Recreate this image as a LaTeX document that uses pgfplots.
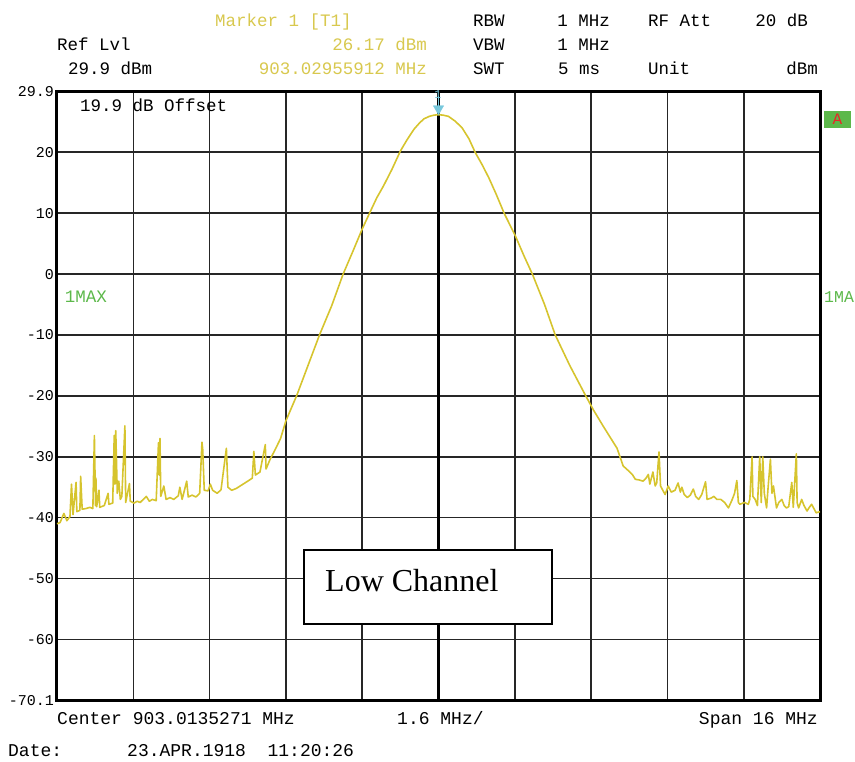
\documentclass[border=0pt]{standalone}
\usepackage{pgfplots}
\pgfplotsset{compat=1.18}
\usepackage{fontspec}
\setmainfont{Liberation Serif}
\newfontfamily\mono{Liberation Mono}
\definecolor{trace}{RGB}{214,196,46}
\definecolor{ytext}{RGB}{216,200,78}
\definecolor{mgreen}{RGB}{92,184,74}
\definecolor{mred}{RGB}{232,38,40}
\definecolor{mcyan}{RGB}{120,200,220}
\newcommand\mf{\mono\fontsize{17.5}{18}\selectfont}
\newcommand\bfnt{\mono\fontsize{18}{18}\selectfont}
\begin{document}
\begin{tikzpicture}[x=1pt,y=1pt]
\useasboundingbox (0,0) rectangle (855,762);
\begin{axis}[
  at={(57pt,61pt)}, anchor=south west, scale only axis,
  width=763pt, height=609pt,
  xmin=0, xmax=10, ymin=-70.1, ymax=29.9,
  xtick={1,2,3,4,6,7,8,9}, xticklabels={},
  extra x ticks={5}, extra x tick labels={},
  extra x tick style={grid style={line width=2.6pt,black}},
  ytick={-60,-50,-40,-30,-20,-10,0,10,20},
  yticklabels={-60,-50,-40,-30,-20,-10,0,10,20},
  extra y ticks={-70.1,29.9}, extra y tick labels={-70.1,29.9},
  extra y tick style={grid=none},
  major tick length=0pt,
  grid=major,
  grid style={line width=1.6pt, black!85},
  axis line style={line width=3pt, black},
  yticklabel style={font=\mono\fontsize{15}{15}\selectfont, inner sep=1pt, xshift=-2pt},
  clip=true,
]
\addplot[trace, line width=1.6pt, line join=round] coordinates {
(0.00,-41.0) (0.04,-40.8) (0.09,-39.3) (0.13,-40.5) (0.17,-39.8) (0.19,-34.5) (0.21,-39.5)
(0.25,-34.2) (0.26,-39.0) (0.30,-38.8) (0.31,-33.2) (0.33,-38.6) (0.38,-38.5) (0.43,-38.3)
(0.47,-38.5) (0.49,-26.5) (0.505,-38.0) (0.51,-33.5) (0.52,-38.2) (0.55,-35.5) (0.56,-38.3)
(0.62,-38.0) (0.67,-36.0) (0.68,-37.8) (0.73,-37.6) (0.75,-26.5) (0.76,-34.5) (0.77,-25.7)
(0.79,-36.0) (0.81,-34.0) (0.83,-37.0) (0.85,-36.5) (0.89,-24.9) (0.90,-37.5) (0.95,-34.4)
(0.96,-37.3) (1.01,-37.6) (1.05,-37.3) (1.09,-37.5) (1.13,-37.0) (1.17,-36.5) (1.21,-37.3)
(1.25,-37.0) (1.30,-37.2) (1.33,-27.7) (1.34,-33.0) (1.35,-27.0) (1.36,-36.5) (1.40,-34.8)
(1.43,-37.0) (1.48,-36.7) (1.53,-37.0) (1.59,-36.4) (1.61,-35.0) (1.64,-37.0) (1.70,-34.0)
(1.72,-36.6) (1.77,-36.3) (1.82,-36.6) (1.87,-36.0) (1.90,-27.6) (1.91,-28.8) (1.93,-35.5)
(1.98,-35.6) (2.01,-34.5) (2.04,-35.5) (2.10,-36.0) (2.15,-35.4) (2.22,-28.6) (2.24,-35.0)
(2.29,-35.5) (2.35,-35.2) (2.40,-34.8) (2.45,-34.4) (2.50,-34.0) (2.56,-33.5) (2.58,-29.1)
(2.60,-33.0) (2.66,-32.5) (2.73,-28.0) (2.74,-32.0) (2.79,-30.5) (2.86,-28.8)
(2.93,-27.0) (3.00,-24.1) (3.14,-20.0) (3.29,-15.0) (3.44,-10.0) (3.60,-5.2) (3.75,0.0)
(3.88,3.8) (4.00,7.4) (4.10,10.1) (4.19,12.5) (4.28,14.5) (4.39,17.2) (4.50,20.2)
(4.59,22.1) (4.68,23.8) (4.75,24.8) (4.81,25.5) (4.88,25.9) (4.94,26.1) (5.00,26.17)
(5.06,26.1) (5.13,25.9) (5.22,25.1) (5.31,24.0) (5.40,22.2) (5.48,20.0) (5.57,18.0)
(5.66,15.8) (5.76,13.0) (5.86,10.0) (6.01,6.2) (6.12,3.0) (6.23,0.0) (6.39,-5.0)
(6.53,-10.0) (6.72,-15.0) (6.93,-20.0) (7.03,-22.3) (7.16,-25.0) (7.26,-27.0) (7.34,-28.6)
(7.42,-31.5) (7.49,-32.3) (7.54,-32.9) (7.58,-33.7) (7.63,-33.8) (7.68,-34.0) (7.72,-33.5)
(7.75,-32.9) (7.77,-34.5) (7.81,-32.5) (7.84,-34.8) (7.86,-34.3) (7.89,-29.2) (7.91,-34.8)
(7.94,-35.5) (7.97,-36.2) (8.01,-34.8) (8.05,-35.8) (8.10,-35.5) (8.14,-34.3) (8.17,-35.8)
(8.19,-35.0) (8.22,-36.2) (8.26,-36.7) (8.30,-36.3) (8.34,-35.3) (8.37,-36.5) (8.41,-37.0)
(8.45,-36.2) (8.50,-34.1) (8.52,-37.0) (8.57,-36.8) (8.61,-36.5) (8.65,-37.0) (8.70,-37.0)
(8.75,-37.5) (8.80,-38.4) (8.85,-37.0) (8.88,-36.0) (8.91,-33.9) (8.93,-37.5) (8.95,-37.8)
(9.01,-37.5) (9.06,-37.8) (9.08,-37.0) (9.11,-30.0) (9.12,-36.5) (9.15,-37.0) (9.18,-38.0)
(9.21,-30.0) (9.23,-37.5) (9.25,-30.0) (9.27,-36.0) (9.30,-38.4) (9.32,-35.0) (9.35,-30.4)
(9.37,-36.0) (9.39,-34.8) (9.43,-38.4) (9.46,-37.5) (9.50,-37.0) (9.53,-38.0) (9.56,-38.4)
(9.59,-38.2) (9.63,-34.2) (9.65,-38.3) (9.69,-29.5) (9.70,-37.5) (9.72,-38.4) (9.76,-37.0)
(9.79,-38.0) (9.83,-38.9) (9.86,-38.3) (9.89,-37.8) (9.92,-38.5) (9.95,-39.2) (10.0,-39.0)
};
\addplot[only marks, mcyan, mark=triangle*, mark size=6pt,
  mark options={yshift=6pt, rotate=180, fill=mcyan, draw=mcyan}] coordinates {(5,26.17)};
\node[anchor=base west, inner sep=0pt, font=\mf] at (axis cs:0.3,29.9) [yshift=-20pt] {19.9 dB Offset};
\node[anchor=base west, inner sep=0pt, font=\mf, text=mgreen] at (axis cs:0.1,0) [yshift=-28pt] {1MAX};
\end{axis}
% marker number
\draw[mcyan, line width=1pt] (438,666) -- (438,656);
\node[mcyan, font=\mono\fontsize{12}{12}\selectfont, inner sep=0pt, anchor=base] at (438,663) {1};
% header
\node[anchor=base west, inner sep=0pt, font=\mf, text=ytext] at (215,735) {Marker 1 [T1]};
\node[anchor=base west, inner sep=0pt, font=\mf] at (57,711) {Ref Lvl};
\node[anchor=base east, inner sep=0pt, font=\mf, text=ytext] at (427,711) {26.17 dBm};
\node[anchor=base west, inner sep=0pt, font=\mf] at (68,687) {29.9 dBm};
\node[anchor=base east, inner sep=0pt, font=\mf, text=ytext] at (427,687) {903.02955912 MHz};
\node[anchor=base west, inner sep=0pt, font=\mf] at (473,735) {RBW};
\node[anchor=base east, inner sep=0pt, font=\mf] at (610,735) {1 MHz};
\node[anchor=base west, inner sep=0pt, font=\mf] at (648,735) {RF Att};
\node[anchor=base east, inner sep=0pt, font=\mf] at (808,735) {20 dB};
\node[anchor=base west, inner sep=0pt, font=\mf] at (473,711) {VBW};
\node[anchor=base east, inner sep=0pt, font=\mf] at (610,711) {1 MHz};
\node[anchor=base west, inner sep=0pt, font=\mf] at (473,687) {SWT};
\node[anchor=base west, inner sep=0pt, font=\mf] at (558,687) {5 ms};
\node[anchor=base west, inner sep=0pt, font=\mf] at (648,687) {Unit};
\node[anchor=base east, inner sep=0pt, font=\mf] at (818,687) {dBm};
% right side
\node[fill=mgreen, text=mred, font=\mono\fontsize{16}{16}\selectfont, minimum width=27pt, minimum height=17pt, inner sep=0pt] at (837.5,642.5) {A};
\node[anchor=base west, inner sep=0pt, font=\mono\fontsize{16.5}{17}\selectfont, text=mgreen] at (824,459) {1MA};
% footer
\node[anchor=base west, inner sep=0pt, font=\bfnt] at (57,37) {Center 903.0135271 MHz};
\node[anchor=base west, inner sep=0pt, font=\bfnt] at (397,37) {1.6 MHz/};
\node[anchor=base east, inner sep=0pt, font=\bfnt] at (818,37) {Span 16 MHz};
\node[anchor=base west, inner sep=0pt, font=\bfnt] at (8,5) {Date:};
\node[anchor=base west, inner sep=0pt, font=\bfnt] at (127,5) {23.APR.1918\ \ 11:20:26};
% annotation box
\draw[line width=1.3pt, fill=white] (304,138) rectangle (552,212);
\node[anchor=base west, inner sep=0pt, font=\fontsize{32}{32}\selectfont] at (325,170) {Low Channel};
\end{tikzpicture}
\end{document}
